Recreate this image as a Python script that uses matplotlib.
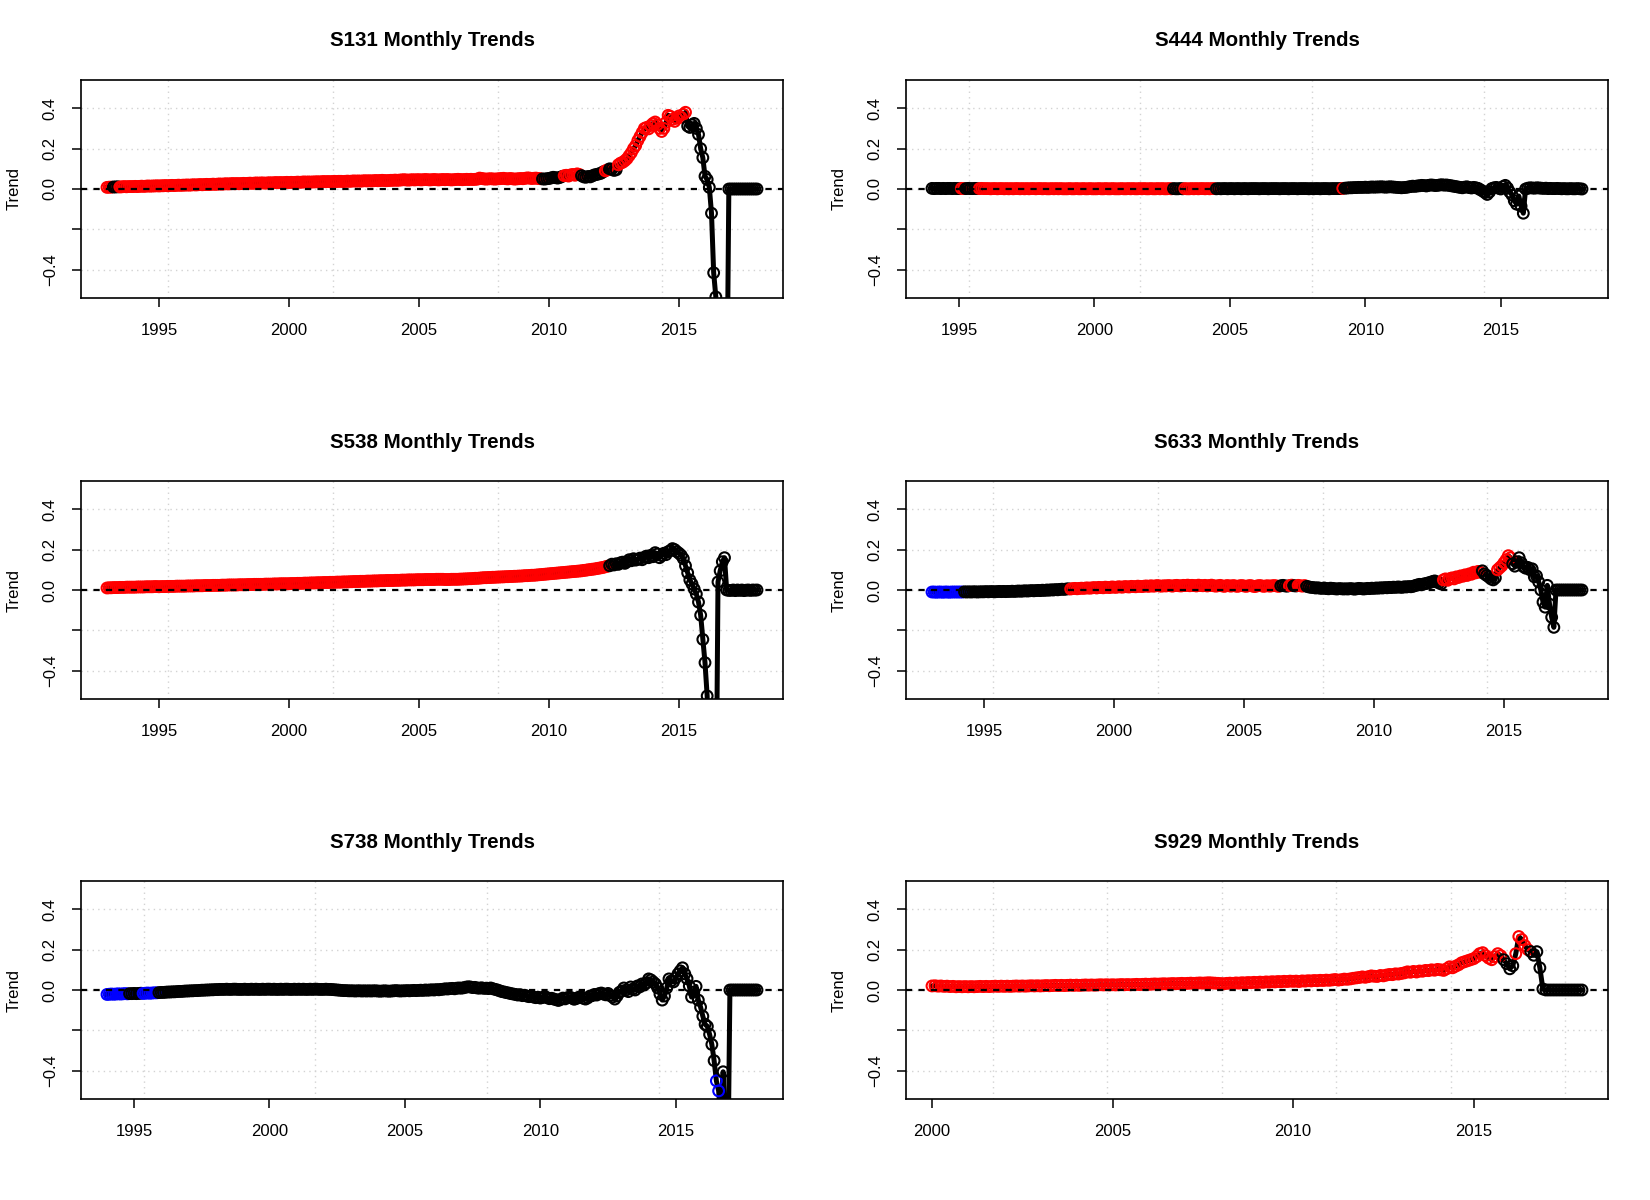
import numpy as np
import matplotlib.pyplot as plt

plt.rcParams["font.family"] = ["Liberation Sans", "DejaVu Sans"]

# ---- data: monthly trend values, one row per year (Jan..Dec) ----
titles = ["S131 Monthly Trends", "S444 Monthly Trends", "S538 Monthly Trends",
          "S633 Monthly Trends", "S738 Monthly Trends", "S929 Monthly Trends"]
start_years = [1993, 1994, 1993, 1993, 1994, 2000]

s131 = [
    .008, .009, .009, .010, .010, .011, .010, .011, .012, .011, .012, .012,
    .012, .013, .012, .013, .014, .013, .014, .015, .014, .015, .015, .016,
    .015, .016, .016, .017, .016, .017, .018, .017, .018, .019, .018, .019,
    .019, .020, .019, .020, .021, .020, .021, .022, .021, .022, .023, .022,
    .023, .024, .023, .024, .025, .024, .025, .026, .025, .026, .027, .026,
    .027, .026, .027, .028, .027, .028, .029, .028, .029, .030, .029, .030,
    .030, .029, .030, .031, .030, .031, .032, .031, .032, .031, .032, .033,
    .032, .033, .032, .033, .034, .033, .034, .035, .034, .035, .034, .035,
    .035, .036, .035, .036, .037, .036, .037, .036, .037, .038, .037, .038,
    .038, .037, .038, .039, .038, .039, .040, .039, .040, .039, .040, .041,
    .040, .041, .040, .041, .042, .041, .042, .043, .042, .041, .042, .043,
    .043, .044, .043, .044, .045, .046, .045, .044, .045, .046, .045, .046,
    .046, .045, .046, .047, .046, .045, .046, .047, .046, .045, .046, .047,
    .046, .047, .046, .045, .046, .047, .048, .047, .046, .047, .048, .047,
    .048, .047, .048, .049, .054, .052, .050, .049, .050, .051, .050, .049,
    .050, .051, .052, .053, .051, .050, .052, .051, .049, .050, .051, .052,
    .051, .053, .055, .054, .052, .053, .054, .052, .051, .050, .049, .051,
    .052, .055, .058, .056, .054, .057, .062, .066, .068, .064, .070, .072,
    .068, .075, .072, .066, .060, .058, .062, .060, .065, .070, .072, .075,
    .078, .085, .090, .095, .100, .098, .092, .095, .120, .128, .132, .140,
    .150, .165, .180, .200, .215, .240, .260, .280, .300, .305, .298, .315,
    .325, .332, .318, .300, .285, .300, .330, .365, .360, .345, .335, .350,
    .362, .355, .370, .380, .312, .305, .318, .325, .300, .270, .200, .155,
    .063, .047, .008, -.120, -.415, -.535, -.900, -1.30, -1.50, -1.40, -1.20, .000,
    .000, .000, .000, .000, .000, .000, .000, .000, .000, .000, .000, .000,
    .000,
]
s131_colours = [("r", 3), ("k", 3), ("r", 195), ("k", 10), ("r", 8), ("k", 11),
                ("r", 2), ("k", 4), ("r", 32), ("k", 33)]

s444 = [
    .003, .002, .003, .003, .002, .003, .002, .003, .003, .002, .003, .002,
    .002, .003, .002, .002, .003, .002, .002, .003, .002, .002, .003, .002,
    .002, .002, .001, .002, .002, .001, .002, .002, .001, .002, .001, .002,
    .001, .002, .002, .001, .002, .001, .002, .001, .002, .002, .001, .002,
    .002, .001, .002, .001, .001, .002, .001, .002, .001, .002, .001, .001,
    .001, .002, .001, .001, .002, .001, .001, .002, .001, .001, .002, .001,
    .001, .001, .002, .001, .001, .002, .001, .001, .002, .001, .001, .001,
    .002, .001, .001, .002, .001, .002, .001, .001, .002, .001, .002, .001,
    .001, .002, .001, .001, .002, .001, .002, .001, .001, .002, .001, .002,
    .001, .001, .002, .001, .002, .001, .001, .002, .001, .002, .001, .002,
    .002, .001, .002, .001, .002, .002, .001, .002, .001, .002, .002, .001,
    .002, .002, .001, .002, .002, .001, .002, .002, .001, .002, .002, .002,
    .002, .001, .002, .002, .002, .001, .002, .002, .002, .002, .001, .002,
    .002, .002, .001, .002, .002, .002, .001, .002, .002, .002, .002, .001,
    .002, .001, .002, .002, .001, .002, .002, .002, .001, .002, .002, .002,
    .002, .002, .003, .004, .005, .006, .006, .007, .007, .008, .008, .008,
    .009, .008, .009, .010, .009, .010, .010, .011, .010, .009, .010, .011,
    .010, .009, .008, .007, .006, .007, .008, .010, .012, .014, .013, .015,
    .016, .018, .017, .015, .018, .020, .019, .017, .018, .020, .021, .019,
    .020, .018, .016, .014, .012, .010, .008, .006, .009, .011, .007, .005,
    .008, .006, .003, -.004, -.010, -.018, -.027, -.015, .002, .006, .008, .004,
    .000, .012, .018, .005, -.015, -.030, -.058, -.075, -.035, -.085, -.120, .000,
    .004, .006, .005, .004, .006, .005, .004, .003, .004, .002, .003, .002,
    .002, .003, .002, .001, .002, .001, .001, .002, .001, .001, .002, .001,
    .000,
]
s444_colours = [("k", 13), ("r", 2), ("k", 6), ("r", 86), ("k", 5), ("r", 14),
                ("k", 56), ("r", 1), ("k", 106)]

s538 = [
    .010, .011, .011, .012, .012, .012, .013, .013, .013, .014, .014, .014,
    .014, .014, .015, .015, .015, .015, .016, .016, .016, .016, .017, .017,
    .016, .017, .017, .017, .018, .018, .018, .018, .019, .019, .019, .019,
    .019, .020, .020, .020, .020, .021, .021, .021, .021, .022, .022, .022,
    .022, .023, .023, .023, .023, .024, .024, .024, .025, .025, .025, .025,
    .025, .026, .026, .026, .026, .027, .027, .027, .028, .028, .028, .028,
    .028, .029, .029, .029, .029, .030, .030, .030, .031, .031, .031, .031,
    .031, .032, .032, .032, .033, .033, .033, .034, .034, .034, .035, .035,
    .035, .036, .036, .036, .037, .037, .037, .038, .038, .038, .039, .039,
    .039, .040, .040, .040, .041, .041, .042, .042, .042, .043, .043, .043,
    .044, .044, .044, .045, .045, .045, .046, .046, .046, .047, .047, .047,
    .047, .048, .048, .048, .049, .049, .049, .050, .050, .050, .050, .051,
    .051, .051, .051, .052, .052, .052, .052, .052, .053, .053, .053, .053,
    .052, .052, .052, .053, .053, .053, .053, .054, .054, .055, .055, .056,
    .056, .057, .058, .058, .059, .060, .061, .061, .062, .062, .063, .063,
    .064, .064, .065, .065, .066, .066, .067, .067, .068, .068, .069, .069,
    .070, .071, .071, .072, .073, .073, .074, .075, .076, .077, .078, .079,
    .080, .081, .082, .083, .084, .085, .086, .087, .088, .089, .090, .091,
    .092, .093, .094, .095, .097, .098, .100, .101, .103, .104, .106, .108,
    .110, .112, .115, .118, .120, .128, .124, .130, .127, .135, .138, .132,
    .140, .150, .145, .155, .148, .152, .158, .150, .162, .168, .160, .172,
    .165, .185, .178, .160, .170, .182, .175, .190, .195, .205, .200, .190,
    .182, .172, .155, .120, .085, .050, .030, .005, -.020, -.060, -.125, -.245,
    -.360, -.525, -1.00, -1.40, -1.60, -1.30, .040, .095, .140, .160, .000, -.002,
    -.002, .000, -.003, .000, -.002, .000, -.003, -.001, .000, -.002, .000, -.001,
    .000,
]
s538_colours = [("r", 232), ("k", 69)]

s633 = [
    -.010, -.010, -.011, -.010, -.010, -.011, -.010, -.010, -.011, -.010, -.010, -.010,
    -.010, -.010, -.010, -.009, -.010, -.009, -.010, -.009, -.009, -.010, -.009, -.009,
    -.009, -.008, -.009, -.008, -.008, -.009, -.008, -.007, -.008, -.007, -.008, -.007,
    -.007, -.006, -.007, -.006, -.005, -.006, -.005, -.004, -.005, -.004, -.003, -.004,
    -.003, -.002, -.003, -.001, -.002, .000, -.001, .001, .000, .002, .001, .003,
    .004, .003, .005, .006, .005, .007, .008, .006, .008, .009, .008, .010,
    .010, .009, .011, .012, .010, .013, .012, .011, .014, .013, .012, .015,
    .014, .013, .016, .015, .014, .017, .016, .015, .018, .017, .016, .019,
    .018, .017, .019, .020, .018, .021, .019, .020, .022, .020, .019, .021,
    .020, .022, .021, .019, .022, .023, .021, .020, .023, .022, .024, .021,
    .023, .022, .020, .024, .022, .021, .023, .020, .022, .024, .021, .019,
    .021, .023, .020, .018, .022, .021, .019, .022, .020, .018, .021, .022,
    .020, .018, .021, .022, .019, .017, .020, .022, .021, .018, .020, .021,
    .019, .021, .022, .020, .018, .021, .023, .020, .019, .022, .024, .021,
    .020, .023, .021, .019, .022, .018, .015, .013, .012, .010, .011, .009,
    .008, .010, .007, .006, .009, .008, .006, .005, .007, .006, .005, .006,
    .005, .007, .006, .004, .006, .008, .007, .005, .006, .008, .007, .009,
    .008, .010, .009, .011, .010, .012, .011, .013, .012, .014, .013, .015,
    .014, .013, .016, .015, .017, .016, .018, .022, .025, .028, .026, .030,
    .032, .035, .038, .042, .045, .040, .035, .030, .050, .055, .048, .056,
    .060, .055, .065, .062, .070, .068, .075, .072, .080, .078, .088, .085,
    .092, .088, .095, .080, .072, .065, .055, .050, .060, .100, .110, .120,
    .135, .150, .170, .160, .130, .118, .140, .160, .135, .115, .108, .112,
    .100, .105, .065, .070, .040, .000, -.060, -.085, .023, -.070, -.135, -.185,
    .000, .000, .000, .000, .000, .000, .000, .000, .000, .000, .000, .000,
    .000,
]
s633_colours = [("b", 15), ("k", 49), ("r", 97), ("k", 4), ("r", 2), ("k", 2),
                ("r", 4), ("k", 63), ("r", 18), ("k", 7), ("r", 7), ("k", 33)]

s738 = [
    -.022, -.021, -.020, -.021, -.020, -.019, -.020, -.019, -.018, -.019, -.018, -.018,
    -.017, -.018, -.017, -.016, -.017, -.016, -.015, -.016, -.015, -.014, -.014, -.013,
    -.012, -.012, -.011, -.010, -.010, -.009, -.009, -.008, -.007, -.007, -.006, -.005,
    -.005, -.004, -.004, -.003, -.003, -.002, -.001, -.001, .000, .000, .001, .001,
    .002, .002, .003, .003, .003, .004, .003, .003, .004, .004, .003, .003,
    .003, .004, .003, .003, .004, .003, .004, .003, .003, .004, .003, .004,
    .004, .003, .004, .003, .003, .004, .003, .004, .004, .003, .003, .004,
    .003, .004, .003, .004, .003, .003, .004, .003, .004, .004, .003, .003,
    .003, .004, .003, .003, .002, .001, .000, -.001, -.002, -.003, -.003, -.004,
    -.004, -.004, -.005, -.004, -.004, -.005, -.004, -.005, -.004, -.005, -.004, -.004,
    -.005, -.006, -.005, -.004, -.005, -.006, -.005, -.004, -.003, -.004, -.005, -.004,
    -.004, -.003, -.004, -.003, -.002, -.003, -.002, -.001, -.002, .000, -.001, .000,
    .001, .000, .002, .001, .003, .004, .006, .005, .007, .008, .006, .009,
    .010, .009, .011, .014, .016, .015, .012, .013, .010, .009, .011, .008,
    .009, .007, .010, .006, .003, .000, -.004, -.008, -.010, -.013, -.015, -.018,
    -.020, -.022, -.025, -.023, -.028, -.026, -.030, -.033, -.031, -.035, -.038, -.036,
    -.040, -.037, -.033, -.038, -.043, -.041, -.045, -.048, -.052, -.047, -.040, -.044,
    -.038, -.035, -.040, -.046, -.042, -.036, -.032, -.041, -.045, -.039, -.030, -.028,
    -.022, -.025, -.018, -.015, -.020, -.024, -.017, -.028, -.035, -.045, -.030, -.012,
    -.005, .010, .000, -.008, .015, .005, .000, .020, .015, .030, .025, .035,
    .055, .050, .040, .030, .010, -.020, -.050, -.030, .010, .055, .045, .040,
    .060, .080, .095, .110, .080, .056, .020, -.035, -.010, .018, -.050, -.085,
    -.130, -.170, -.180, -.220, -.270, -.350, -.450, -.500, -.650, -.405, -.800, -1.00,
    .000, .000, .000, .000, .000, .000, .000, .000, .000, .000, .000, .000,
    .000,
]
s738_colours = [("b", 10), ("k", 6), ("b", 7), ("k", 247), ("b", 2), ("k", 17)]

s929 = [
    .020, .021, .019, .020, .018, .019, .017, .018, .016, .017, .016, .017,
    .016, .017, .016, .017, .018, .017, .018, .017, .018, .019, .018, .019,
    .018, .019, .018, .019, .020, .019, .020, .019, .020, .021, .020, .021,
    .020, .021, .022, .021, .022, .023, .022, .023, .022, .023, .024, .023,
    .024, .023, .024, .025, .024, .025, .024, .025, .026, .025, .026, .025,
    .026, .025, .026, .027, .026, .027, .026, .027, .028, .027, .028, .029,
    .028, .029, .030, .029, .030, .031, .030, .031, .032, .031, .032, .033,
    .032, .033, .034, .033, .034, .035, .034, .035, .036, .035, .034, .033,
    .032, .031, .033, .034, .033, .035, .034, .036, .035, .037, .036, .038,
    .037, .039, .038, .040, .039, .041, .040, .042, .041, .043, .042, .044,
    .043, .044, .042, .045, .044, .046, .045, .047, .046, .048, .047, .049,
    .048, .050, .052, .049, .051, .054, .053, .055, .058, .060, .062, .065,
    .063, .066, .070, .068, .067, .072, .070, .074, .077, .076, .080, .079,
    .082, .085, .090, .088, .092, .089, .094, .093, .097, .096, .100, .098,
    .102, .100, .097, .105, .115, .110, .118, .125, .135, .140, .145, .150,
    .155, .165, .180, .185, .170, .158, .150, .165, .180, .170, .150, .130,
    .105, .120, .180, .265, .250, .220, .200, .190, .172, .190, .110, .005,
    .000, .000, .000, .000, .000, .000, .000, .000, .000, .000, .000, .000,
    .000,
]
s929_colours = [("r", 190), ("k", 4), ("r", 5), ("k", 18)]

series = [s131, s444, s538, s633, s738, s929]
colour_runs = [s131_colours, s444_colours, s538_colours,
               s633_colours, s738_colours, s929_colours]
tick_years = [[1995, 2000, 2005, 2010, 2015]] * 5 + [[2000, 2005, 2010, 2015]]
# R's grid() lines sit on pretty POSIXct seconds
grid_step_secs = [2e8, 2e8, 2e8, 2e8, 2e8, 1e8]

COLOURS = {"r": "#ff0000", "k": "#000000", "b": "#0000ff"}


def expand_colours(runs):
    out = []
    for code, n in runs:
        out += [COLOURS[code]] * n
    return out


def secs_to_year(s):
    return 1970 + s / (365.2425 * 86400)


W, H = 1650, 1200
fig = plt.figure(figsize=(W / 100, H / 100), dpi=100)

col_left = [81, 906]
row_top = [80, 481, 881]
box_w, box_h = 702, 218

for i in range(6):
    r, c = divmod(i, 2)
    left = col_left[c] / W
    bottom = 1 - (row_top[r] + box_h) / H
    ax = fig.add_axes([left, bottom, box_w / W, box_h / H])

    y = np.array(series[i])
    x = start_years[i] + np.arange(len(y)) / 12
    cols = expand_colours(colour_runs[i])

    span = x[-1] - x[0]
    ax.set_xlim(x[0] - 0.04 * span, x[-1] + 0.04 * span)
    ax.set_ylim(-0.54, 0.54)

    # dotted light grey grid
    for gy in [-0.4, -0.2, 0.0, 0.2, 0.4]:
        ax.axhline(gy, color="#d3d3d3", lw=1.0, ls=(0, (1, 3)), zorder=1)
    gsecs = np.arange(0, 2e9, grid_step_secs[i])
    for gx in secs_to_year(gsecs):
        if ax.get_xlim()[0] < gx < ax.get_xlim()[1]:
            ax.axvline(gx, color="#d3d3d3", lw=1.0, ls=(0, (1, 3)), zorder=1)

    ax.plot(x, y, color="black", lw=3.6, zorder=2, solid_joinstyle="round")
    ax.scatter(x, y, s=60, facecolors="none", edgecolors=cols,
               linewidths=1.5, zorder=3)
    ax.axhline(0, color="black", lw=1.6, ls=(0, (2.8, 2.8)), zorder=4)

    ax.set_xticks(tick_years[i])
    ax.set_xticklabels([str(t) for t in tick_years[i]])
    ax.set_yticks([-0.4, -0.2, 0.0, 0.2, 0.4])
    ax.set_yticklabels(["\u22120.4", "", "0.0", "0.2", "0.4"],
                       rotation=90, va="center")
    ax.tick_params(axis="both", direction="out", length=6.7, width=1.1,
                   labelsize=12, pad=10)
    ax.tick_params(axis="x", pad=11.5)
    for sp in ax.spines.values():
        sp.set_linewidth(1.2)

    ax.set_ylabel("Trend", fontsize=12, va="center")
    ax.yaxis.set_label_coords(-(81 - 14) / box_w, 0.5)
    ax.text(0.5, 1 + 39 / box_h, titles[i], transform=ax.transAxes,
            ha="center", va="center", fontsize=14.8, fontweight="bold")

fig.savefig("out.png", dpi=100)
